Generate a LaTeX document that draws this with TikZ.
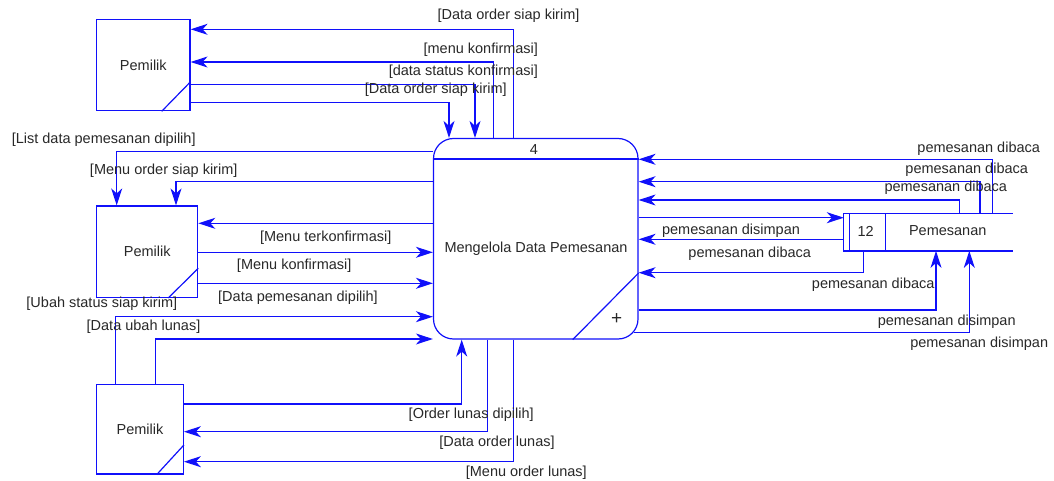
\documentclass[tikz,border=0pt]{standalone}
\usepackage{fontspec}
\setmainfont{Liberation Sans}
\usetikzlibrary{arrows.meta,calc}
\definecolor{dfdblue}{RGB}{16,16,250}
\definecolor{dfdtext}{RGB}{40,40,40}
\begin{document}
\begin{tikzpicture}[x=1pt,y=-1pt,
  line/.style={draw=dfdblue,line width=1.2pt},
  flow/.style={line,-{Stealth[length=17pt,width=11pt,inset=5pt]}},
  entity/.style={line,rectangle,inner sep=0pt,font=\fontsize{14.5}{16}\selectfont,text=dfdtext},
  lbl/.style={inner sep=0pt,font=\fontsize{14.5}{16}\selectfont,text=dfdtext}]
\useasboundingbox (0,0) rectangle (1054,481);

% process 4
\node[line,rectangle,rounded corners=20pt,minimum width=204.5pt,minimum height=200.5pt] (proc) at (535.75,238.75) {};
\draw[line] (proc.west |- 0,159) -- (proc.east |- 0,159);
\draw[line] (proc.south -| 572.7,0) -- (proc.east |- 0,273);
\node[lbl] (pnum) at (534,150) {4};
\node[lbl] (pname) at (536,249) {Mengelola Data Pemesanan};
\node[lbl,font=\fontsize{19}{20}\selectfont] (pplus) at (616.7,318.7) {+};

% external entities
\node[entity,minimum width=93.3pt,minimum height=91.4pt] (pm1) at (143.35,65) {Pemilik};
\draw[line] (pm1.south -| 161.7,0) -- (pm1.east |- 0,81.7);
\node[entity,minimum width=101pt,minimum height=91.3pt] (pm2) at (147.2,251.65) {Pemilik};
\draw[line] (pm2.south -| 168.3,0) -- (pm2.east |- 0,268.3);
\node[entity,minimum width=86.6pt,minimum height=89.7pt] (pm3) at (140,429.15) {Pemilik};
\draw[line] (pm3.south -| 156.7,0) -- (pm3.east |- 0,445);

% data store 12
\node[minimum width=168.7pt,minimum height=37.4pt,inner sep=0pt] (ds) at (928.35,232) {};
\draw[line] (ds.north east) -- (ds.north west) -- (ds.south west) -- (ds.south east);
\draw[line] (ds.north -| 849.3,0) -- (ds.south -| 849.3,0);
\draw[line] (ds.north -| 885.7,0) -- (ds.south -| 885.7,0);
\node[lbl] (dsnum) at (865.7,231) {12};
\node[lbl] (dsname) at (947.7,231) {Pemesanan};

% flows with the top entity
\draw[flow] (proc.north -| 513.3,0) |- (pm1.east |- 0,29.3);
\draw[flow] (proc.north -| 493.3,0) |- (pm1.east |- 0,62);
\draw[flow] (pm1.east |- 0,84.7) -| (proc.north -| 475,0);
\draw[flow] (pm1.east |- 0,102.3) -| (proc.north -| 449,0);
\node[lbl] at (508.5,16) {[Data order siap kirim]};
\node[lbl] at (480.8,49.5) {[menu konfirmasi]};
\node[lbl] at (463.3,71.7) {[data status konfirmasi]};
\node[lbl] at (435.8,90) {[Data order siap kirim]};

% flows with the middle entity
\draw[flow] (proc.west |- 0,151.7) -| (pm2.north -| 116.7,0);
\draw[flow] (proc.west |- 0,181.7) -| (pm2.north -| 176,0);
\draw[flow] (proc.west |- 0,223.3) -- (pm2.east |- 0,223.3);
\draw[flow] (pm2.east |- 0,252.3) -- (proc.west |- 0,252.3);
\draw[flow] (pm2.east |- 0,283.3) -- (proc.west |- 0,283.3);
\node[lbl] at (103.7,139.3) {[List data pemesanan dipilih]};
\node[lbl] at (163.7,170.7) {[Menu order siap kirim]};
\node[lbl] at (325.7,237.3) {[Menu terkonfirmasi]};
\node[lbl] at (294.2,266) {[Menu konfirmasi]};
\node[lbl] at (298,297.3) {[Data pemesanan dipilih]};

% flows with the bottom entity
\draw[flow] (pm3.north -| 115.7,0) |- (proc.west |- 0,316.7);
\draw[flow] (pm3.north -| 155.7,0) |- (proc.west |- 0,339);
\draw[flow] (pm3.east |- 0,404) -| (proc.south -| 461.7,0);
\draw[flow] (proc.south -| 487.3,0) |- (pm3.east |- 0,431.7);
\draw[flow] (proc.south -| 513.3,0) |- (pm3.east |- 0,461.7);
\node[lbl] at (101.8,303.3) {[Ubah status siap kirim]};
\node[lbl] at (143.5,326.7) {[Data ubah lunas]};
\node[lbl] at (471.2,415) {[Order lunas dipilih]};
\node[lbl] at (497,443) {[Data order lunas]};
\node[lbl] at (526.3,472.3) {[Menu order lunas]};

% flows with the data store
\draw[flow] (ds.north -| 992.3,0) |- (proc.east |- 0,159.3);
\draw[flow] (ds.north -| 980,0) |- (proc.east |- 0,181.7);
\draw[flow] (ds.north -| 959.3,0) |- (proc.east |- 0,200);
\draw[flow] (proc.east |- 0,217.7) -- (ds.west |- 0,217.7);
\draw[flow] (ds.west |- 0,239.3) -- (proc.east |- 0,239.3);
\draw[flow] (ds.south -| 863.3,0) |- (proc.east |- 0,272.7);
\draw[flow] (proc.east |- 0,310) -| (ds.south -| 936,0);
\draw[flow] ($(proc.east |- 0,332.3)+(-5,0)$) -| (ds.south -| 969.3,0);
\node[lbl] at (978.7,148.3) {pemesanan dibaca};
\node[lbl] at (966.7,170) {pemesanan dibaca};
\node[lbl] at (945.8,187.3) {pemesanan dibaca};
\node[lbl] at (731,231) {pemesanan disimpan};
\node[lbl] at (749.7,253.3) {pemesanan dibaca};
\node[lbl] at (873.2,284.3) {pemesanan dibaca};
\node[lbl] at (946.7,321.7) {pemesanan disimpan};
\node[lbl] at (979.2,343.3) {pemesanan disimpan};
\end{tikzpicture}
\end{document}
